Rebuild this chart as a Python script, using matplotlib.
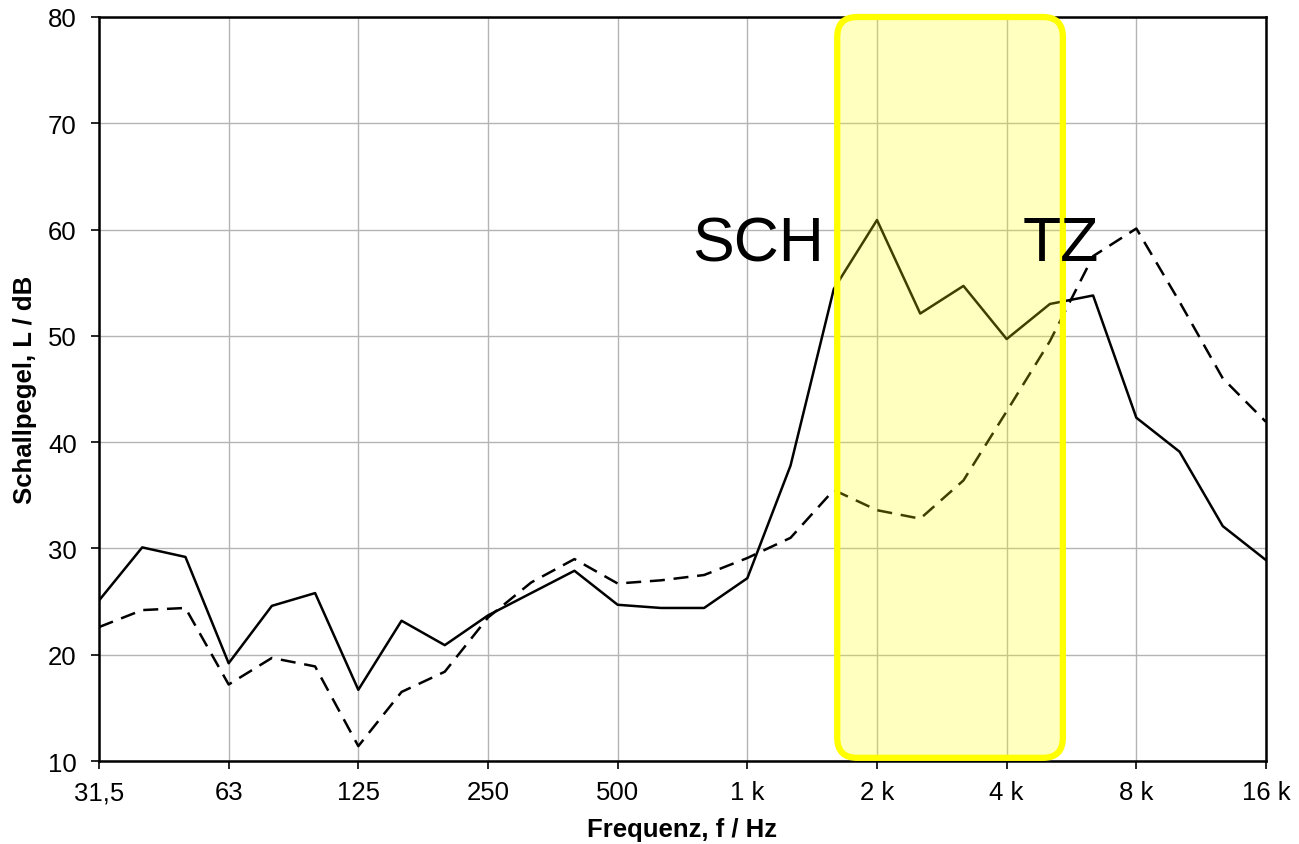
import numpy as np
import matplotlib
matplotlib.use("Agg")
import matplotlib.pyplot as plt
from matplotlib.patches import FancyBboxPatch

plt.rcParams['font.family'] = ['Liberation Sans', 'DejaVu Sans']

# Third-octave bands
bands = ['31,5', '40', '50', '63', '80', '100', '125', '160', '200', '250',
         '315', '400', '500', '630', '800', '1 k', '1,25 k', '1,6 k', '2 k',
         '2,5 k', '3,15 k', '4 k', '5 k', '6,3 k', '8 k', '10 k', '12,5 k', '16 k']
octave_labels = ['31,5', '63', '125', '250', '500', '1 k', '2 k', '4 k', '8 k', '16 k']

solid_db = [25.1, 30.1, 29.2, 19.2, 24.6, 25.8, 16.7, 23.2, 20.9, 23.7,
            25.8, 27.9, 24.7, 24.4, 24.4, 27.2, 37.8, 54.4, 60.9, 52.1,
            54.7, 49.7, 53.0, 53.8, 42.3, 39.1, 32.1, 28.9]
dashed_db = [22.6, 24.2, 24.4, 17.2, 19.7, 18.9, 11.4, 16.5, 18.4, 23.5,
             26.8, 29.0, 26.7, 27.0, 27.5, 29.1, 31.0, 35.5, 33.6, 32.8,
             36.4, 42.9, 49.5, 57.5, 60.1, 53.2, 46.0, 41.9]

fig = plt.figure(figsize=(12.99, 8.45), dpi=100)
ax = fig.add_axes([0.0762, 0.0982, 0.8984, 0.8805])

x = np.arange(len(bands))
ax.plot(x, solid_db, color='black', lw=1.8, zorder=3)
ax.plot(x, dashed_db, color='black', lw=1.8, ls=(0, (6, 3.5)), zorder=3)

ax.set_xlim(0, len(bands) - 1)
ax.set_ylim(10, 80)
oct_idx = [bands.index(l) for l in octave_labels]
ax.set_xticks(oct_idx)
ax.set_xticklabels(octave_labels)
ax.set_yticks(np.arange(10, 81, 10))
ax.grid(True, color='#b4b4b4', lw=1.0, zorder=0)
ax.set_axisbelow(True)

ax.tick_params(axis='both', direction='out', length=6, width=1.2,
               labelsize=18.5, colors='black')
ax.tick_params(axis='y', pad=10)
ax.tick_params(axis='x', pad=8)
for s in ax.spines.values():
    s.set_linewidth(1.8)
    s.set_color('black')

ax.set_xlabel('Frequenz, f / Hz', fontsize=18.5, fontweight='bold', labelpad=9)
ax.set_ylabel('Schallpegel, L / dB', fontsize=18.5, fontweight='bold', labelpad=8)

# Highlight box (rounded, semi-transparent yellow)
x0, x1 = 17.08, 22.3
y0, y1 = 10.3, 80.0
fig.canvas.draw()
p0 = ax.transData.transform((0, 0))
p1 = ax.transData.transform((1, 1))
px_per_x = p1[0] - p0[0]
px_per_y = p1[1] - p0[1]
aspect = px_per_x / px_per_y
box = FancyBboxPatch((x0, y0), x1 - x0, y1 - y0,
                     boxstyle='round,pad=0,rounding_size=%f' % (20 / px_per_x),
                     mutation_aspect=aspect,
                     facecolor=(1, 1, 0, 0.25), edgecolor='#FFFF00',
                     lw=4.5, zorder=5, clip_on=False)
ax.add_patch(box)

ax.text(13.72, 57.1, 'SCH', fontsize=45, color='black', zorder=6, va='baseline')
ax.text(21.38, 57.1, 'TZ', fontsize=45, color='black', zorder=6, va='baseline')

fig.savefig('out.png', dpi=100)
